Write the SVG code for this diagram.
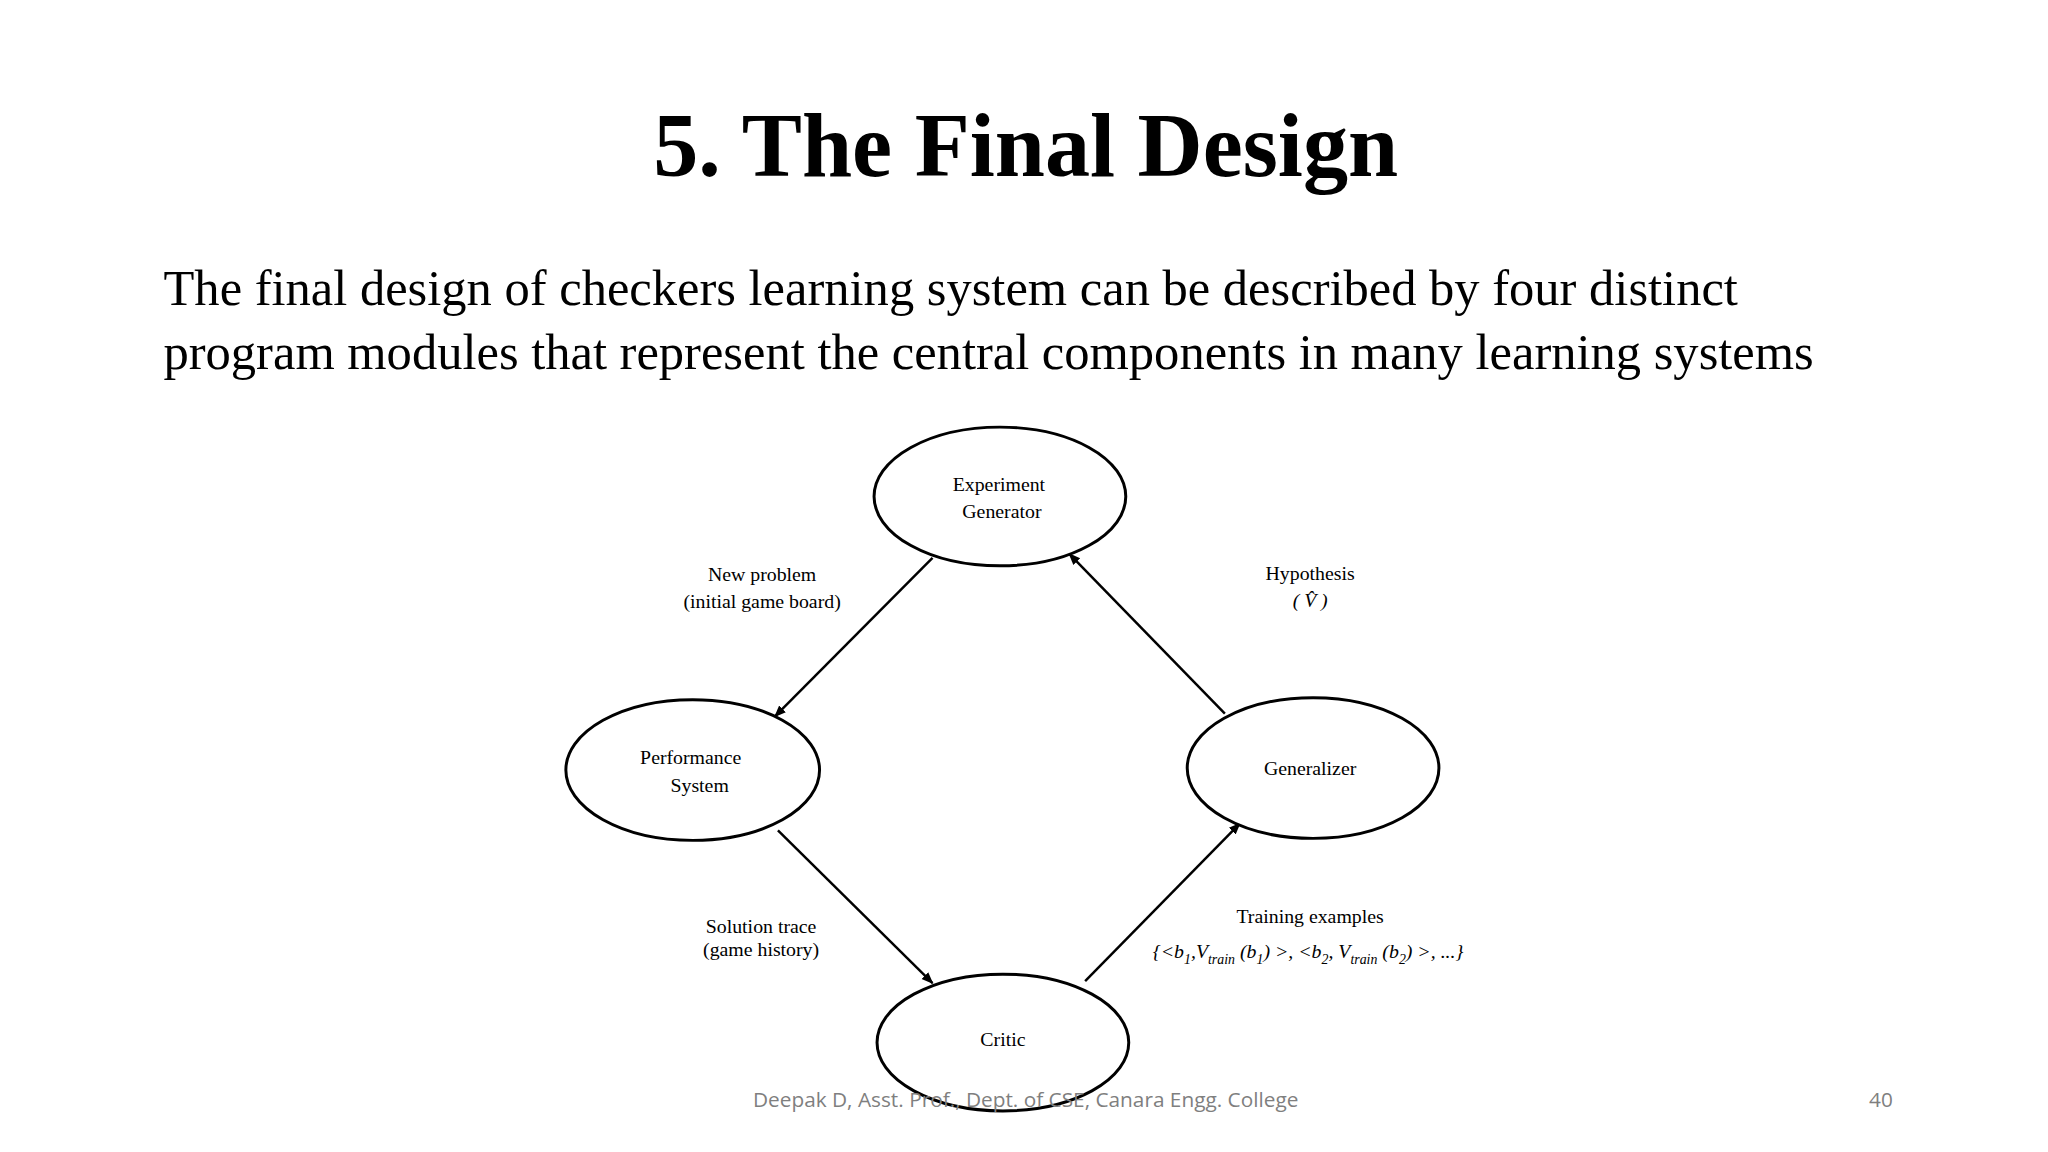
<svg xmlns="http://www.w3.org/2000/svg" width="2048" height="1152" viewBox="0 0 2048 1152">
<defs>
<marker id="ah" viewBox="0 0 10 10" refX="9" refY="5" markerWidth="12" markerHeight="12" markerUnits="userSpaceOnUse" orient="auto"><path d="M0,1 L10,5 L0,9 Z" fill="#000"/></marker>
<style>
.n{fill:#fff;stroke:#000;stroke-width:3}
.t{font-family:"Liberation Serif",serif;font-size:20px;fill:#000;text-anchor:middle}
.c{stroke:#000;stroke-width:2.5;fill:none;marker-end:url(#ah)}
</style>
</defs>
<rect width="2048" height="1152" fill="#fff"/>
<g transform="scale(0.991)">
<text x="1035" y="178" font-family="Liberation Serif,serif" font-weight="bold" font-size="91" text-anchor="middle">5. The Final Design</text>
<text font-family="Liberation Serif,serif" font-size="51" x="165" y="308">The final design of checkers learning system can be described by four distinct</text>
<text font-family="Liberation Serif,serif" font-size="51" x="165" y="372">program modules that represent the central components in many learning systems</text>
<g id="connectors">
<line class="c" x1="941" y1="563" x2="782" y2="723"/>
<line class="c" x1="785" y1="838" x2="941" y2="992"/>
<line class="c" x1="1095" y1="990" x2="1251" y2="831"/>
<line class="c" x1="1236" y1="720" x2="1079" y2="559"/>
<text class="t" x="769" y="586">New problem</text>
<text class="t" x="769" y="614">(initial game board)</text>
<text class="t" x="1322" y="585">Hypothesis</text>
<text class="t" x="1322" y="613" font-style="italic">( V̂ )</text>
<text class="t" x="768" y="941">Solution trace</text>
<text class="t" x="768" y="965">(game history)</text>
<text class="t" x="1322" y="931">Training examples</text>
<text class="t" x="1320" y="967" font-style="italic">{&lt;b<tspan font-size="14" dy="6">1</tspan><tspan dy="-6">,V</tspan><tspan font-size="14" dy="6">train</tspan><tspan dy="-6"> (b</tspan><tspan font-size="14" dy="6">1</tspan><tspan dy="-6">)  &gt;, &lt;b</tspan><tspan font-size="14" dy="6">2</tspan><tspan dy="-6">, V</tspan><tspan font-size="14" dy="6">train</tspan><tspan dy="-6"> (b</tspan><tspan font-size="14" dy="6">2</tspan><tspan dy="-6">) &gt;, ...}</tspan></text>
</g>
<g id="experiment-generator"><ellipse class="n" cx="1009" cy="501" rx="127" ry="70"/><text class="t" x="1008" y="495">Experiment</text><text class="t" x="1011" y="523">Generator</text></g>
<g id="performance-system"><ellipse class="n" cx="699" cy="777" rx="128" ry="71"/><text class="t" x="697" y="771">Performance</text><text class="t" x="706" y="799">System</text></g>
<g id="generalizer"><ellipse class="n" cx="1325" cy="775" rx="127" ry="71"/><text class="t" x="1322" y="782">Generalizer</text></g>
<g id="critic"><ellipse class="n" cx="1012" cy="1052" rx="127" ry="69"/><text class="t" x="1012" y="1056">Critic</text></g>
<text x="1035" y="1117" font-family="Open Sans,sans-serif" font-size="21" fill="#7f7f7f" text-anchor="middle">Deepak D, Asst. Prof., Dept. of CSE, Canara Engg. College</text>
<text x="1898" y="1117" font-family="Open Sans,sans-serif" font-size="21" fill="#7f7f7f" text-anchor="middle">40</text>
</g>
</svg>
